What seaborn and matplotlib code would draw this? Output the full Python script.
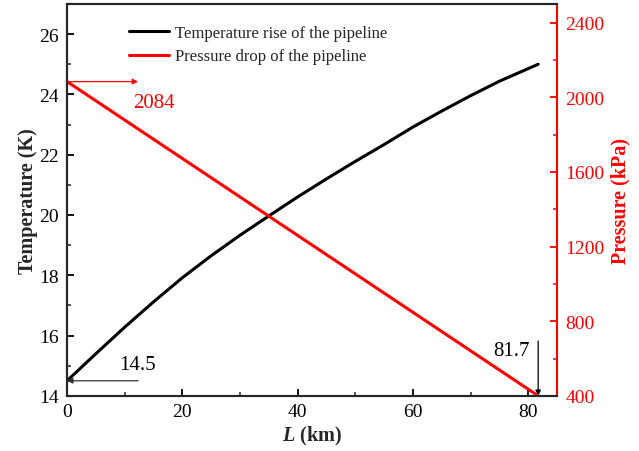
import numpy as np
import pandas as pd
import matplotlib
matplotlib.use("Agg")
import matplotlib.pyplot as plt
import seaborn as sns
from matplotlib.ticker import MultipleLocator

# -------------------------
# Data
# -------------------------
length_km = [0, 5, 10, 15, 20, 25, 30, 35, 40, 45, 50, 55, 60, 65, 70, 75, 81.7]
temperature_k = [14.5, 15.4, 16.28, 17.12, 17.92, 18.65, 19.33, 19.97, 20.6,
                 21.2, 21.78, 22.34, 22.92, 23.45, 23.96, 24.44, 25.0]

pressure_len_km = [0, 81.7]
pressure_kpa = [2084, 400]

temp_label = "Temperature rise of the pipeline"
pres_label = "Pressure drop of the pipeline"

# -------------------------
# Style
# -------------------------
sns.set_style("ticks")
plt.rcParams["font.family"] = ["Liberation Serif", "DejaVu Serif"]
plt.rcParams["mathtext.fontset"] = "custom"
plt.rcParams["mathtext.rm"] = "Liberation Serif"
plt.rcParams["mathtext.bfit"] = "Liberation Serif:italic:bold"
plt.rcParams["xtick.direction"] = "in"
plt.rcParams["ytick.direction"] = "in"

df_t = pd.DataFrame({"L": length_km, "T": temperature_k})
df_p = pd.DataFrame({"L": pressure_len_km, "P": pressure_kpa})

fig = plt.figure(figsize=(6.39, 4.52), dpi=100)
ax = fig.add_axes([0.105, 0.122, 0.767, 0.867])
ax2 = ax.twinx()

sns.lineplot(data=df_t, x="L", y="T", ax=ax, color="black", lw=2.2,
             label=temp_label, legend=False)
sns.lineplot(data=df_p, x="L", y="P", ax=ax2, color="red", lw=2.2,
             label=pres_label, legend=False)

# -------------------------
# Axes
# -------------------------
ax.set_xlim(0, 85)
ax.set_ylim(14, 27)
ax2.set_ylim(400, 2500)

ax.xaxis.set_major_locator(MultipleLocator(20))
ax.xaxis.set_minor_locator(MultipleLocator(10))
ax.yaxis.set_major_locator(MultipleLocator(2))
ax.yaxis.set_minor_locator(MultipleLocator(1))
ax2.yaxis.set_major_locator(MultipleLocator(400))
ax2.yaxis.set_minor_locator(MultipleLocator(200))

ax.tick_params(which="major", length=5, width=1.3, labelsize=14, colors="black")
ax.tick_params(which="minor", length=3, width=1.1)
ax.tick_params(axis="x", pad=5)
ax.tick_params(axis="y", pad=6)
ax2.tick_params(which="major", length=5, width=1.3, labelsize=14,
                colors="red", pad=6)
ax2.tick_params(which="minor", length=3, width=1.1, colors="red")

for s in ["left", "bottom", "top"]:
    ax2.spines[s].set_linewidth(1.5)
    ax.spines[s].set_linewidth(1.5)
ax2.spines["right"].set_color("red")
ax2.spines["right"].set_linewidth(1.5)
ax.spines["right"].set_visible(False)

ax.set_xlabel(r"$\mathbfit{L}$ (km)", fontsize=14.5, fontweight="bold", labelpad=3)
ax.set_ylabel("Temperature (K)", fontsize=14.5, fontweight="bold", labelpad=1)
ax2.set_ylabel("Pressure (kPa)", fontsize=14.5, fontweight="bold", color="red",
               labelpad=4)

# -------------------------
# Annotations
# -------------------------
ax2.annotate("", xy=(12.3, pressure_kpa[0]), xytext=(0, pressure_kpa[0]),
             arrowprops=dict(arrowstyle="-|>", color="red", lw=0.9,
                             mutation_scale=8, shrinkA=0, shrinkB=0))
ax2.text(11.5, 1950, str(pressure_kpa[0]), color="red", fontsize=15)

ax.annotate("", xy=(0, temperature_k[0]), xytext=(12.3, temperature_k[0]),
            arrowprops=dict(arrowstyle="-|>", color="#333333", lw=0.9,
                            mutation_scale=8, shrinkA=0, shrinkB=0))
ax.text(9, 14.9, f"{temperature_k[0]}", color="black", fontsize=15)

ax.annotate("", xy=(length_km[-1], 14.0), xytext=(length_km[-1], 15.82),
            arrowprops=dict(arrowstyle="-|>", color="black", lw=0.9,
                            mutation_scale=8, shrinkA=0, shrinkB=0))
ax.text(80.3, 15.35, f"{length_km[-1]}", color="black", fontsize=15, ha="right")

# -------------------------
# Legend
# -------------------------
h1, l1 = ax.get_legend_handles_labels()
h2, l2 = ax2.get_legend_handles_labels()
ax.legend(h1 + h2, l1 + l2, loc="upper left", bbox_to_anchor=(0.095, 0.985),
          frameon=False, fontsize=12, handlelength=2.4, handletextpad=0.4,
          labelspacing=0.45)

fig.savefig("out.png", dpi=100)
plt.close(fig)
